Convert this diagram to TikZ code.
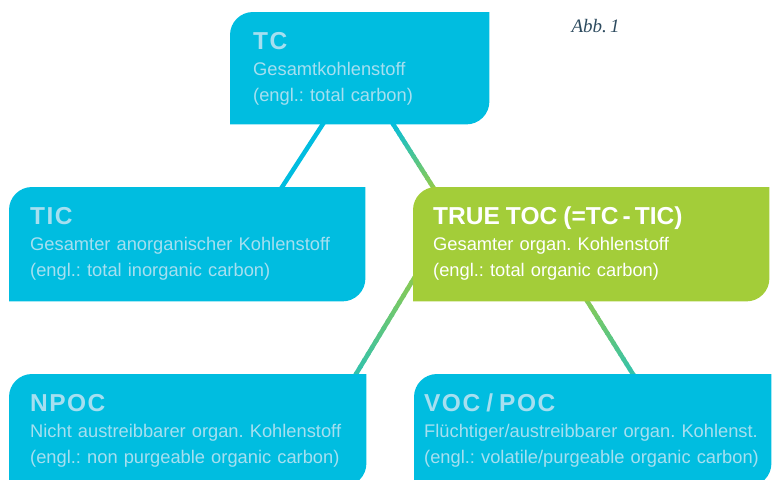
\documentclass[tikz,border=0pt]{standalone}
\usepackage{fontspec}
\setmainfont{Liberation Sans}
\newfontfamily\abbfont{Liberation Serif}
\usetikzlibrary{calc, backgrounds}
\frenchspacing
\hyphenpenalty=10000

\definecolor{sky}{HTML}{00BDE0}
\definecolor{leaf}{HTML}{A3CD39}
\definecolor{pale}{HTML}{A6DFF0}
\definecolor{ink}{HTML}{2D4B5F}

% box titles: spaced on the cyan boxes, plain on the green one
\newcommand{\ttl}[1]{{\fontsize{24.5}{26}\selectfont\bfseries\addfontfeature{LetterSpace=6}#1}}
\newcommand{\ttlplain}[1]{{\fontsize{24.5}{26}\selectfont\bfseries #1}}
% tab shape: rounded top left and bottom right corners only
\newcommand{\tabfill}[2]{%
  \fill[#2] (#1.south west) -- ([yshift=-23pt]#1.north west)
    arc[start angle=180, end angle=90, radius=23pt] -- (#1.north east)
    -- ([yshift=23pt]#1.south east)
    arc[start angle=0, end angle=-90, radius=23pt] -- cycle;}
% connector whose colour runs from #3 to #4 percent green
\newcommand{\fadelink}[4]{%
  \foreach \k in {0,...,15}{%
    \pgfmathtruncatemacro{\mix}{#3+(#4-#3)*\k/15}%
    \draw[link, draw=leaf!\mix!sky] ($(#1)!{\k/16}!(#2)$) -- ($(#1)!{(\k+1.3)/16}!(#2)$);
  }}

\begin{document}
\begin{tikzpicture}[
    x=1pt, y=1pt,
    box/.style={anchor=north west, align=left, inner ysep=0pt, text height=37.5pt,
      font=\fontsize{18.3}{26}\selectfont, text=pale},
    link/.style={line width=4.5pt}
]
\useasboundingbox (0,0) rectangle (776,-479);
% the five boxes
\node[box, inner xsep=23pt, text width=213pt, text depth=74.5pt] (tc) at (230,-12)
  {\ttl{TC}\\Gesamtkohlenstoff\\(engl.: total carbon)};
\node[box, inner xsep=21pt, text width=314pt, text depth=76.5pt] (tic) at (9,-187)
  {\ttl{TIC}\\Gesamter anorganischer Kohlenstoff\\(engl.: total inorganic carbon)};
\node[box, text=white, inner xsep=20pt, text width=316pt, text depth=76.5pt] (toc) at (413,-187)
  {\ttlplain{TRUE TOC (=TC\,-\,TIC)}\\Gesamter organ. Kohlenstoff\\(engl.: total organic carbon)};
\node[box, inner xsep=21pt, text width=315pt, text depth=74.5pt] (npoc) at (9,-374)
  {\ttl{NPOC}\\Nicht austreibbarer organ. Kohlenstoff\\(engl.: non purgeable organic carbon)};
\node[box, inner xsep=10pt, text width=337pt, text depth=74.5pt] (voc) at (414,-374)
  {\ttl{VOC / POC}\\Flüchtiger/austreibbarer organ. Kohlenst.\\(engl.: volatile/purgeable organic carbon)};
\node[anchor=base west, font=\abbfont\itshape\fontsize{19}{19}\selectfont, text=ink] (abb) at (568,-32) {Abb.\,1};

% connector ends, just inside the boxes
\coordinate (tc-l)   at ([shift={(95.5,-108)}]tc.north west);
\coordinate (tic-t)  at ([shift={(270.5,-4)}]tic.north west);
\coordinate (tc-r)   at ([shift={(160.5,-108)}]tc.north west);
\coordinate (toc-t)  at ([shift={(22.5,-4)}]toc.north west);
\coordinate (toc-l)  at ([shift={(3,-88)}]toc.north west);
\coordinate (npoc-t) at ([shift={(344,-5)}]npoc.north west);
\coordinate (toc-r)  at ([shift={(171,-109)}]toc.north west);
\coordinate (voc-t)  at ([shift={(222,-5)}]voc.north west);

\begin{scope}[on background layer]
  \clip (0,0) rectangle (776,-479);
  \draw[link, sky] (tc-l) -- (tic-t);
  \fadelink{tc-r}{toc-t}{0}{90}
  \fadelink{toc-l}{npoc-t}{85}{30}
  \fadelink{toc-r}{voc-t}{85}{30}
  \tabfill{tc}{sky}
  \tabfill{tic}{sky}
  \tabfill{toc}{leaf}
  \tabfill{npoc}{sky}
  \tabfill{voc}{sky}
\end{scope}
\end{tikzpicture}
\end{document}
